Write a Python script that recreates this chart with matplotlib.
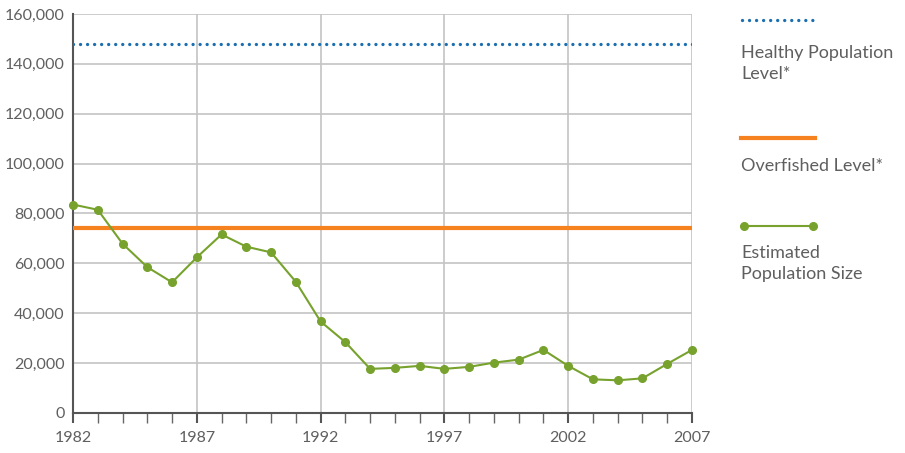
import matplotlib
matplotlib.use("Agg")
import matplotlib.pyplot as plt
from matplotlib.lines import Line2D
from matplotlib.ticker import FuncFormatter, MultipleLocator

years = list(range(1982, 2008))
population = [83600, 81500, 67900, 58500, 52400, 62400, 71600, 66700, 64400, 52600,
              36700, 28400, 17700, 18100, 18900, 17700, 18500, 20200, 21400, 25300,
              18900, 13500, 13100, 13900, 19700, 25300]
healthy_level = 148000
overfished_level = 74000
year_ticks = [1982, 1987, 1992, 1997, 2002, 2007]

legend_labels = ["Healthy Population\nLevel*", "Overfished Level*", "Estimated\nPopulation Size"]

BLUE = "#1b6fb0"
ORANGE = "#f5821f"
GREEN = "#77a22d"
TEXT = "#5f5f5f"
GRID = "#c4c4c4"

plt.rcParams["font.family"] = ["Lato", "DejaVu Sans"]

fig = plt.figure(figsize=(9.05, 4.53), dpi=100)
ax = fig.add_axes([73 / 905, 1 - 413 / 453, (692 - 73) / 905, (413 - 14) / 453])

ax.axhline(healthy_level, color=BLUE, lw=2.4, linestyle=(0, (0.01, 2.1)),
           dash_capstyle="round", zorder=3)
ax.axhline(overfished_level, color=ORANGE, lw=3, zorder=3)
ax.plot(years, population, color=GREEN, lw=1.5, marker="o", markersize=5.5,
        zorder=4, clip_on=False)

ax.set_xlim(1982, 2007)
ax.set_ylim(0, 160000)
ax.set_xticks(year_ticks)
ax.set_xticks(years, minor=True)
ax.yaxis.set_major_locator(MultipleLocator(20000))
ax.yaxis.set_major_formatter(FuncFormatter(lambda v, p: f"{int(v):,}"))

ax.grid(True, which="major", color=GRID, lw=1.2, zorder=0)
ax.set_axisbelow(True)
for s in ["top", "right"]:
    ax.spines[s].set_visible(False)
ax.spines["left"].set_color("#555555")
ax.spines["left"].set_linewidth(1.5)
ax.spines["bottom"].set_color("#555555")
ax.spines["bottom"].set_linewidth(1.5)

ax.tick_params(axis="x", which="major", direction="out", length=7, width=1.5,
               color="#555555", labelsize=11.5, labelcolor=TEXT, pad=6)
ax.tick_params(axis="x", which="minor", direction="out", length=7, width=1,
               color="#666666")
ax.tick_params(axis="y", length=0, labelsize=11.5, labelcolor=TEXT, pad=6)

# legend drawn by hand on the right
def fx(px):
    return px / 905

def fy(py):
    return 1 - py / 453

fig.add_artist(Line2D([fx(742), fx(814)], [fy(20), fy(20)], color=BLUE, lw=2.4,
                      linestyle=(0, (0.01, 2.1)), dash_capstyle="round"))
fig.add_artist(Line2D([fx(741), fx(815)], [fy(138), fy(138)], color=ORANGE, lw=3))
fig.add_artist(Line2D([fx(744), fx(813)], [fy(226), fy(226)], color=GREEN, lw=1.5,
                      marker="o", markersize=5.5))

for label, py in zip(legend_labels, [45, 158, 245]):
    fig.text(fx(741), fy(py), label, ha="left", va="top", fontsize=13,
             color=TEXT, linespacing=1.35)

fig.savefig("out.png", dpi=100)
